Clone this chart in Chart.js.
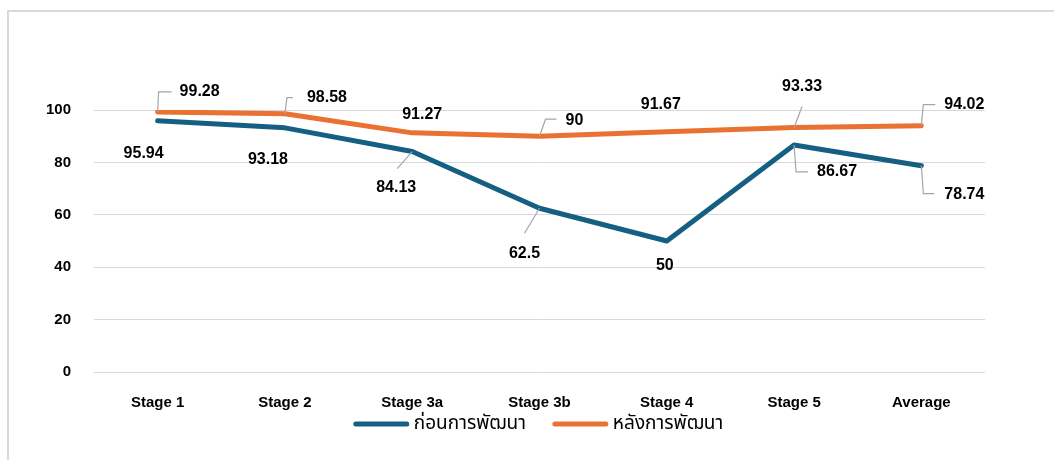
<!DOCTYPE html>
<html>
<head>
<meta charset="utf-8">
<script src="https://cdn.jsdelivr.net/npm/chart.js@4/dist/chart.umd.min.js"></script>
<style>
	html, body { margin: 0; padding: 0; background: #fff; }
	#wrap { position: relative; width: 1054px; height: 460px; }
</style>
</head>
<body>
<div id="wrap"><canvas id="chart"></canvas></div>
<script>
// chart data
let categories = ['Stage 1', 'Stage 2', 'Stage 3a', 'Stage 3b', 'Stage 4', 'Stage 5', 'Average'];
let beforeValues = [95.94, 93.18, 84.13, 62.5, 50, 86.67, 78.74];
let afterValues = [99.28, 98.58, 91.27, 90, 91.67, 93.33, 94.02];
let seriesNames = ['ก่อนการพัฒนา', 'หลังการพัฒนา'];
let yTicks = [0, 20, 40, 60, 80, 100];

// label placement relative to each point: text offset, leader corner, leader end
let beforeLabelPos = [
	{ dx: -14, dy: 33 },
	{ dx: -17, dy: 32 },
	{ dx: -16, dy: 36, corner: [-15, 17] },
	{ dx: -15, dy: 45, corner: [-15, 25] },
	{ dx: -2, dy: 25 },
	{ dx: 43, dy: 27, corner: [2, 27], end: [14, 27] },
	{ dx: 43, dy: 29, corner: [2, 28], end: [13, 28] },
];
let afterLabelPos = [
	{ dx: 42, dy: -20, corner: [1, -20], end: [14, -20] },
	{ dx: 42, dy: -16, corner: [2, -16], end: [8, -16] },
	{ dx: 10, dy: -18 },
	{ dx: 35, dy: -16, corner: [6, -17], end: [17, -17] },
	{ dx: -6, dy: -27 },
	{ dx: 8, dy: -41, corner: [8, -21] },
	{ dx: 43, dy: -21, corner: [2, -21], end: [14, -21] },
];

let blue = '#156082';
let orange = '#E97132';
let gridColor = '#D9D9D9';
let thaiFont = '"Noto Sans Thai", Tahoma, "Noto Sans", "DejaVu Sans", sans-serif';

// outer frame of the chart area (only top and left edges are visible)
let frameBorder = {
	id: 'frameBorder',
	beforeDraw (chart) {
		let { ctx } = chart;
		ctx.save();
		ctx.strokeStyle = gridColor;
		ctx.lineWidth = 2;
		ctx.beginPath();
		ctx.moveTo(8, chart.height);
		ctx.lineTo(8, 11);
		ctx.lineTo(chart.width, 11);
		ctx.stroke();
		ctx.restore();
	},
};

// value labels with grey leader lines
let valueLabels = {
	id: 'valueLabels',
	afterDatasetsDraw (chart) {
		let { ctx } = chart;
		ctx.save();
		ctx.font = 'bold 16px "Liberation Sans", Arial, sans-serif';
		ctx.textAlign = 'center';
		ctx.textBaseline = 'middle';
		chart.data.datasets.forEach((ds, di) => {
			let meta = chart.getDatasetMeta(di);
			let positions = ds.labelPos;
			meta.data.forEach((pt, i) => {
				let pos = positions[i];
				if (pos.corner) {
					ctx.strokeStyle = '#A6A6A6';
					ctx.lineWidth = 1.2;
					ctx.beginPath();
					ctx.moveTo(pt.x, pt.y);
					ctx.lineTo(pt.x + pos.corner[0], pt.y + pos.corner[1]);
					if (pos.end) {
						ctx.lineTo(pt.x + pos.end[0], pt.y + pos.end[1]);
					}
					ctx.stroke();
				}
				ctx.fillStyle = '#000';
				ctx.fillText(String(ds.data[i]), pt.x + pos.dx, pt.y + pos.dy);
			});
		});
		ctx.restore();
	},
};

// legend centred under the plot
let bottomLegend = {
	id: 'bottomLegend',
	afterDraw (chart) {
		let { ctx, chartArea } = chart;
		let lineLen = 51;
		let textGap = 7;
		let itemGap = 29;
		ctx.save();
		ctx.font = '19px ' + thaiFont;
		ctx.textBaseline = 'middle';
		let items = chart.data.datasets.map(ds => ({ label: ds.label, color: ds.borderColor, w: ctx.measureText(ds.label).width }));
		let total = items.reduce((s, it) => s + lineLen + textGap + it.w, 0) + itemGap * (items.length - 1);
		let x = (chartArea.left + chartArea.right) / 2 - total / 2;
		let y = 424;
		items.forEach(it => {
			ctx.strokeStyle = it.color;
			ctx.lineWidth = 5;
			ctx.lineCap = 'round';
			ctx.beginPath();
			ctx.moveTo(x, y);
			ctx.lineTo(x + lineLen, y);
			ctx.stroke();
			ctx.fillStyle = '#000';
			ctx.fillText(it.label, x + lineLen + textGap, y + 1);
			x += lineLen + textGap + it.w + itemGap;
		});
		ctx.restore();
	},
};

let config = {
	type: 'line',
	data: {
		labels: categories,
		datasets: [
			{
				label: seriesNames[0],
				data: beforeValues,
				borderColor: blue,
				backgroundColor: blue,
				labelPos: beforeLabelPos,
			},
			{
				label: seriesNames[1],
				data: afterValues,
				borderColor: orange,
				backgroundColor: orange,
				labelPos: afterLabelPos,
			},
		],
	},
	options: {
		responsive: true,
		maintainAspectRatio: false,
		animation: false,
		layout: {
			padding: { left: 0, right: 69, top: 110, bottom: 48 },
		},
		elements: {
			line: {
				borderWidth: 5,
				borderCapStyle: 'round',
				borderJoinStyle: 'round',
				tension: 0,
			},
			point: { radius: 0, hoverRadius: 0 },
		},
		plugins: {
			legend: { display: false },
			tooltip: { enabled: false },
		},
		scales: {
			x: {
				offset: true,
				grid: { display: false, drawTicks: false },
				border: { display: false },
				ticks: {
					padding: 22,
					color: '#000',
					font: { size: 15, weight: 'bold', family: '"Liberation Sans", Arial, sans-serif' },
				},
				afterFit: (scale) => { scale.height = 40; },
			},
			y: {
				min: 0,
				max: 100,
				afterBuildTicks: (scale) => { scale.ticks = yTicks.map(v => ({ value: v })); },
				grid: { color: gridColor, lineWidth: 1, drawTicks: false },
				border: { display: false },
				ticks: {
					padding: 23,
					color: '#000',
					font: { size: 15, weight: 'bold', family: '"Liberation Sans", Arial, sans-serif' },
				},
				afterFit: (scale) => { scale.width = 94; },
			},
		},
	},
	plugins: [frameBorder, valueLabels, bottomLegend],
};

new Chart(document.getElementById('chart'), config);
</script>
</body>
</html>
